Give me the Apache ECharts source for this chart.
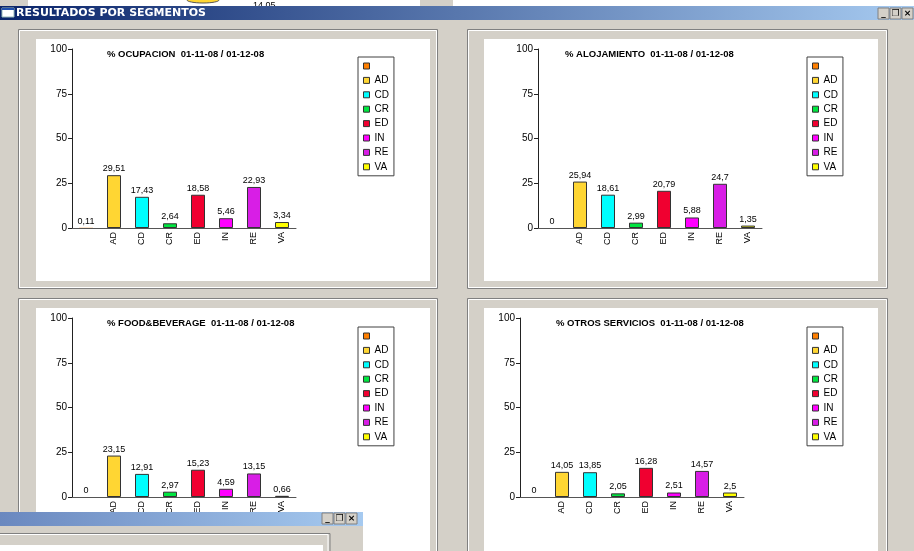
<!DOCTYPE html>
<html>
<head>
<meta charset="utf-8">
<script src="https://cdn.jsdelivr.net/npm/echarts@6/dist/echarts.min.js"></script>
<style>
html,body{margin:0;padding:0;background:#d4d0c8;}
#c{width:914px;height:551px;}
</style>
</head>
<body>
<div id="c"></div>
<script>
// ---- data ----
const categories = ['', 'AD', 'CD', 'CR', 'ED', 'IN', 'RE', 'VA'];
const segmentColors = ['#ff7f00', '#ffd633', '#00ffff', '#00e640', '#f00030', '#ff00ff', '#d81ee6', '#ffff00'];
const ocupacion = [0.11, 29.51, 17.43, 2.64, 18.58, 5.46, 22.93, 3.34];
const alojamiento = [0, 25.94, 18.61, 2.99, 20.79, 5.88, 24.7, 1.35];
const foodBeverage = [0, 23.15, 12.91, 2.97, 15.23, 4.59, 13.15, 0.66];
const otrosServicios = [0, 14.05, 13.85, 2.05, 16.28, 2.51, 14.57, 2.5];
const panelTitles = [
  '% OCUPACION  01-11-08 / 01-12-08',
  '% ALOJAMIENTO  01-11-08 / 01-12-08',
  '% FOOD&BEVERAGE  01-11-08 / 01-12-08',
  '% OTROS SERVICIOS  01-11-08 / 01-12-08'
];
const panelValues = [ocupacion, alojamiento, foodBeverage, otrosServicios];
const yMin = 0, yMax = 100, yInterval = 25;
const windowTitle = 'RESULTADOS POR SEGMENTOS';

// ---- layout ----
const gridPos = [
  {left: 72, top: 49}, {left: 538, top: 49},
  {left: 72, top: 318}, {left: 520, top: 318}
];
const titlePos = [
  {left: 107, top: 49}, {left: 565, top: 49},
  {left: 107, top: 318}, {left: 556, top: 318}
];
const legendPos = [
  {left: 358, top: 57}, {left: 807, top: 57},
  {left: 358, top: 327}, {left: 807, top: 327}
];
const legendNames = categories.map(c => c === '' ? '\u00a0' : c);
const FONT = 'Arial, "Liberation Sans", sans-serif';

const grids = [], xAxes = [], yAxes = [], titles = [], legends = [], series = [];
gridPos.forEach((g, p) => {
  grids.push({left: g.left, top: g.top, width: 224, height: 179, containLabel: false});
  xAxes.push({
    type: 'category', gridIndex: p, data: categories, boundaryGap: true,
    axisLine: {lineStyle: {color: '#555', width: 1}},
    axisTick: {show: false},
    axisLabel: {rotate: 90, fontSize: 9, color: '#000', fontFamily: FONT, margin: 4, interval: 0}
  });
  yAxes.push({
    type: 'value', gridIndex: p, min: yMin, max: yMax, interval: yInterval,
    axisLine: {show: true, lineStyle: {color: '#222', width: 1}},
    axisTick: {show: true, length: 4, lineStyle: {color: '#222'}},
    splitLine: {show: false},
    axisLabel: {fontSize: 10, color: '#000', fontFamily: FONT, margin: 5}
  });
  titles.push({
    text: panelTitles[p], left: titlePos[p].left, top: titlePos[p].top, padding: 0,
    textStyle: {fontSize: 9.5, fontWeight: 'bold', color: '#000', fontFamily: FONT}
  });
  legends.push({
    data: legendNames, orient: 'vertical', left: legendPos[p].left, top: legendPos[p].top,
    selectedMode: false, icon: 'rect', itemWidth: 6, itemHeight: 6, itemGap: 4.4, itemTextGap: 4,
    padding: [4, 5, 4, 5], backgroundColor: '#fff', borderColor: '#404040', borderWidth: 1,
    itemStyle: {borderColor: '#333', borderWidth: 1},
    textStyle: {fontSize: 10, lineHeight: 10, color: '#000', fontFamily: FONT}
  });
  const vals = panelValues[p];
  categories.forEach((c, i) => {
    series.push({
      type: 'bar', name: legendNames[i], xAxisIndex: p, yAxisIndex: p,
      data: vals.map((v, j) => j === i ? v : '-'),
      barGap: '-100%', barWidth: 14,
      itemStyle: {color: segmentColors[i], borderColor: '#333', borderWidth: i === 0 ? 0 : 1},
      label: {
        show: true, position: 'top', distance: 2, fontSize: 9, color: '#000', fontFamily: FONT,
        formatter: (d) => String(d.value).replace('.', ',')
      },
      animation: false
    });
  });
});

// ---- window chrome (graphic) ----
const panelFrames = [
  {x: 18, y: 29, w: 419, h: 259, wx: 36, wy: 39, ww: 394, wh: 242},
  {x: 467, y: 29, w: 420, h: 259, wx: 484, wy: 39, ww: 394, wh: 242},
  {x: 18, y: 298, w: 419, h: 270, wx: 36, wy: 308, ww: 394, wh: 260},
  {x: 467, y: 298, w: 420, h: 270, wx: 484, wy: 308, ww: 394, wh: 260}
];
const graphics = [];
// top strip (window behind)
graphics.push({type: 'rect', z: -20, shape: {x: 0, y: 0, width: 914, height: 6}, style: {fill: '#fff'}});
graphics.push({type: 'rect', z: -19, shape: {x: 0, y: 0, width: 28, height: 6}, style: {fill: '#d4d0c8'}});
graphics.push({type: 'rect', z: -19, shape: {x: 420, y: 0, width: 33, height: 6}, style: {fill: '#d4d0c8'}});
graphics.push({type: 'ellipse', z: -19, shape: {cx: 203, cy: 0, rx: 16, ry: 3}, style: {fill: '#ffd633', stroke: '#555', lineWidth: 1}});
graphics.push({type: 'text', z: -19, style: {x: 253, y: 1, text: '14,05', fontSize: 9, fill: '#000', font: '9px Arial'}});
// title bar
graphics.push({type: 'rect', z: -18, shape: {x: 0, y: 6, width: 914, height: 14},
  style: {fill: new echarts.graphic.LinearGradient(0, 0, 1, 0, [{offset: 0, color: '#0a246a'}, {offset: 1, color: '#a6caf0'}])}});
graphics.push({type: 'rect', z: -17, shape: {x: 2, y: 8, width: 12, height: 9}, style: {fill: '#fff', stroke: '#9bb', lineWidth: 1}});
graphics.push({type: 'rect', z: -17, shape: {x: 2, y: 8, width: 12, height: 2}, style: {fill: '#2050b0'}});
graphics.push({type: 'text', z: -17, style: {x: 16, y: 13.5, text: windowTitle, verticalAlign: 'middle', fill: '#fff', font: 'bold 11px Tahoma, "DejaVu Sans", sans-serif'}});
function buttons(x0, y0, z) {
  const glyphs = ['_', '\u2750', '\u00d7'];
  glyphs.forEach((g, k) => {
    const x = x0 + k * 12;
    graphics.push({type: 'rect', z: z, shape: {x: x, y: y0, width: 11, height: 11}, style: {fill: '#d4d0c8', stroke: '#808080', lineWidth: 1}});
    graphics.push({type: 'text', z: z + 1, style: {x: x + 5.5, y: y0 + 5.5, text: g, align: 'center', verticalAlign: 'middle', fill: '#000', font: 'bold 9px "DejaVu Sans", sans-serif'}});
  });
}
buttons(878, 8, -17);
// panels
panelFrames.forEach(f => {
  graphics.push({type: 'rect', z: -16, shape: {x: f.x + 0.5, y: f.y + 0.5, width: f.w, height: f.h}, style: {fill: 'none', stroke: '#808080', lineWidth: 1}});
  graphics.push({type: 'rect', z: -16, shape: {x: f.x + 1.5, y: f.y + 1.5, width: f.w - 2, height: f.h - 2}, style: {fill: 'none', stroke: '#ffffff', lineWidth: 1}});
  graphics.push({type: 'rect', z: -15, shape: {x: f.wx, y: f.wy, width: f.ww, height: f.wh}, style: {fill: '#fff'}});
});
// overlapping lower window
graphics.push({type: 'rect', z: 100, shape: {x: 0, y: 512, width: 363, height: 14},
  style: {fill: new echarts.graphic.LinearGradient(0, 0, 1, 0, [{offset: 0, color: '#6a88bf'}, {offset: 1, color: '#a6caf0'}])}});
graphics.push({type: 'rect', z: 100, shape: {x: 0, y: 526, width: 363, height: 25}, style: {fill: '#d4d0c8'}});
graphics.push({type: 'rect', z: 101, shape: {x: -2, y: 533.5, width: 332, height: 30}, style: {fill: 'none', stroke: '#808080', lineWidth: 1}});
graphics.push({type: 'rect', z: 101, shape: {x: -2, y: 534.5, width: 330, height: 30}, style: {fill: 'none', stroke: '#ffffff', lineWidth: 1}});
graphics.push({type: 'rect', z: 102, shape: {x: 0, y: 545, width: 323, height: 10}, style: {fill: '#fff'}});
buttons(322, 513, 103);

const chart = echarts.init(document.getElementById('c'), null, {renderer: 'canvas'});
chart.setOption({
  backgroundColor: '#d4d0c8',
  animation: false,
  title: titles,
  legend: legends,
  grid: grids,
  xAxis: xAxes,
  yAxis: yAxes,
  series: series,
  graphic: {elements: graphics}
});
</script>
</body>
</html>
